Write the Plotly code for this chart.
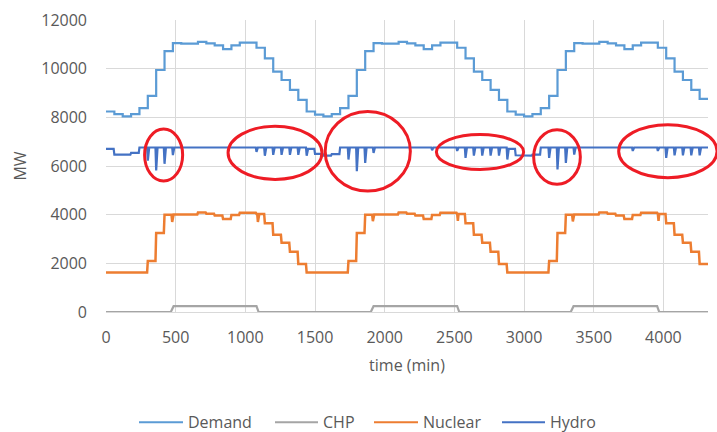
import numpy as np
import plotly.graph_objects as go

# ---------------- data ----------------
# hourly values, 72 hours (3 days), time axis in minutes
demand_mw = [
    8240, 8130, 8040, 8130, 8375, 8880, 9945, 10720, 11050, 11030, 11030, 11100,
    11040, 10960, 10800, 10960, 11070, 11070, 10860, 10420, 9875, 9535, 9128, 8720,
    8240, 8110, 8040, 8130, 8375, 8880, 9945, 10720, 11050, 11030, 11030, 11100,
    11040, 10960, 10800, 10960, 11070, 11070, 10860, 10420, 9875, 9535, 9128, 8720,
    8240, 8110, 8040, 8130, 8375, 8880, 9945, 10720, 11050, 11030, 11030, 11100,
    11040, 10960, 10800, 10960, 11070, 11070, 10860, 10420, 9875, 9535, 9128, 8760,
]
nuclear_mw = [
    1620, 1620, 1620, 1620, 1620, 2100, 3250, 4000, 4010, 4010, 4010, 4090,
    4040, 3970, 3820, 3990, 4080, 4080, 4030, 3650, 3170, 2850, 2480, 1970,
    1620, 1620, 1620, 1620, 1620, 2100, 3250, 4000, 4010, 4010, 4010, 4090,
    4040, 3970, 3820, 3990, 4080, 4080, 4030, 3650, 3170, 2850, 2480, 1970,
    1620, 1620, 1620, 1620, 1620, 2100, 3250, 4000, 4010, 4010, 4010, 4090,
    4040, 3970, 3820, 3990, 4080, 4080, 4030, 3650, 3170, 2850, 2480, 1970,
]
hydro_mw = [
    6700, 6470, 6470, 6540, 6760, 6760, 6760, 6760, 6760, 6760, 6760, 6760,
    6760, 6760, 6760, 6760, 6760, 6760, 6760, 6760, 6760, 6760, 6760, 6760,
    6700, 6500, 6430, 6490, 6760, 6760, 6760, 6760, 6760, 6760, 6760, 6760,
    6760, 6760, 6760, 6760, 6760, 6760, 6760, 6760, 6760, 6760, 6760, 6760,
    6700, 6440, 6430, 6470, 6760, 6760, 6760, 6760, 6760, 6760, 6760, 6760,
    6760, 6760, 6760, 6760, 6760, 6760, 6760, 6760, 6760, 6760, 6760, 6760,
]
# short hydro dips (minute, MW)
hydro_dip_min = [300, 360, 420, 480,
                 1080, 1140, 1200, 1260, 1320, 1380, 1440,
                 1740, 1800, 1860, 1920,
                 2340, 2520, 2580, 2640, 2700, 2760, 2820, 2880,
                 3180, 3240, 3300, 3360,
                 3780, 3960, 4020, 4080, 4140, 4200, 4260]
hydro_dip_mw = [6220, 5820, 6090, 6450,
                6580, 6420, 6460, 6460, 6460, 6460, 6420,
                6265, 5790, 6130, 6540,
                6650, 6620, 6335, 6430, 6430, 6430, 6430, 6265,
                6335, 5860, 6130, 6470,
                6620, 6620, 6335, 6440, 6440, 6440, 6440]
# short nuclear dips (minute, MW)
nuclear_dip_min = [475, 1090, 1915, 2525, 3350, 3965]
nuclear_dip_mw = [3700, 3700, 3730, 3750, 3720, 3750]
# CHP profile
chp_min = [0, 465, 485, 1080, 1095, 1900, 1920, 2520, 2535, 3335, 3355, 3955, 3970, 4320]
chp_mw = [0, 0, 240, 240, 0, 0, 240, 240, 0, 0, 240, 240, 0, 0]

x_ticks = [0, 500, 1000, 1500, 2000, 2500, 3000, 3500, 4000]
y_ticks = [0, 2000, 4000, 6000, 8000, 10000, 12000]

# highlighted regions (minute range, MW range)
ellipse_min = [(277, 550), (876, 1550), (1573, 2184), (2371, 2997), (3069, 3404), (3679, 4385)]
ellipse_mw = [(5380, 7520), (5450, 7630), (4970, 8240), (5860, 7290), (5250, 7490), (5520, 7700)]

# legend entries
legend_names = ["Demand", "CHP", "Nuclear", "Hydro"]
legend_colors = ["#5B9BD5", "#A5A5A5", "#ED7D31", "#4472C4"]
legend_line_px = [(139, 183), (275, 318), (374, 418), (502, 545)]   # line start/end (px)

# ---------------- series construction ----------------
T_END = 4320
hour_x = [h * 60 for h in range(len(demand_mw))] + [T_END]
step = 5
grid = np.arange(0, T_END + step, step)
hour_idx = np.minimum(grid // 60, len(hydro_mw) - 1)

hydro_series = np.array(hydro_mw, dtype=float)[hour_idx]
for t, v in zip(hydro_dip_min, hydro_dip_mw):
    hydro_series[t // step] = v

nuclear_series = np.array(nuclear_mw, dtype=float)[hour_idx]
for t, v in zip(nuclear_dip_min, nuclear_dip_mw):
    nuclear_series[t // step] = v

FONT = "Open Sans"
TXT = "#595959"
W, H = 717, 432
ML, MR, MT, MB = 106, 9, 18, 120

fig = go.Figure()
fig.add_trace(go.Scatter(x=hour_x, y=demand_mw + [demand_mw[-1]], mode="lines", name="Demand",
                         line=dict(color=legend_colors[0], width=2.2, shape="hv")))
fig.add_trace(go.Scatter(x=chp_min, y=chp_mw, mode="lines", name="CHP",
                         line=dict(color=legend_colors[1], width=2.2)))
fig.add_trace(go.Scatter(x=grid, y=nuclear_series, mode="lines", name="Nuclear",
                         line=dict(color=legend_colors[2], width=2.5)))
fig.add_trace(go.Scatter(x=grid, y=hydro_series, mode="lines", name="Hydro",
                         line=dict(color=legend_colors[3], width=2.2)))

shapes = []
for (x0, x1), (y0, y1) in zip(ellipse_min, ellipse_mw):
    shapes.append(dict(type="circle", xref="paper", yref="paper",
                       x0=x0 / T_END, x1=x1 / T_END, y0=y0 / 12000, y1=y1 / 12000,
                       line=dict(color="#EE1C25", width=3)))

# legend drawn below the chart (Excel-style long line keys)
pw, ph = W - ML - MR, H - MT - MB
leg_y = (H - MB - 423) / ph
annotations = []
for name, col, (a, b) in zip(legend_names, legend_colors, legend_line_px):
    shapes.append(dict(type="line", xref="paper", yref="paper",
                       x0=(a - ML) / pw, x1=(b - ML) / pw, y0=leg_y, y1=leg_y,
                       line=dict(color=col, width=2.2)))
    annotations.append(dict(text=name, xref="paper", yref="paper", x=(b + 3 - ML) / pw, y=leg_y,
                            xanchor="left", yanchor="middle", showarrow=False,
                            font=dict(family=FONT, size=16, color=TXT)))

fig.update_layout(
    width=W, height=H,
    margin=dict(l=ML, r=MR, t=MT, b=MB),
    paper_bgcolor="white", plot_bgcolor="white",
    font=dict(family=FONT, size=16, color=TXT),
    shapes=shapes, annotations=annotations,
    showlegend=False,
    xaxis=dict(range=[0, T_END], tickvals=x_ticks, ticktext=[str(v) for v in x_ticks],
               showgrid=True, gridcolor="#D9D9D9", gridwidth=1, zeroline=False,
               showline=True, linecolor="#D9D9D9", ticks="", ticklabelstandoff=11,
               title=dict(text="time (min)", standoff=12, font=dict(size=16, color=TXT))),
    yaxis=dict(range=[0, 12000], tickvals=y_ticks, ticktext=[str(v) for v in y_ticks],
               showgrid=True, gridcolor="#D9D9D9", gridwidth=1, zeroline=False,
               showline=False, ticks="", ticklabelstandoff=18,
               title=dict(text="MW", standoff=10, font=dict(size=16, color=TXT))),
)

fig.write_html("out.html")
